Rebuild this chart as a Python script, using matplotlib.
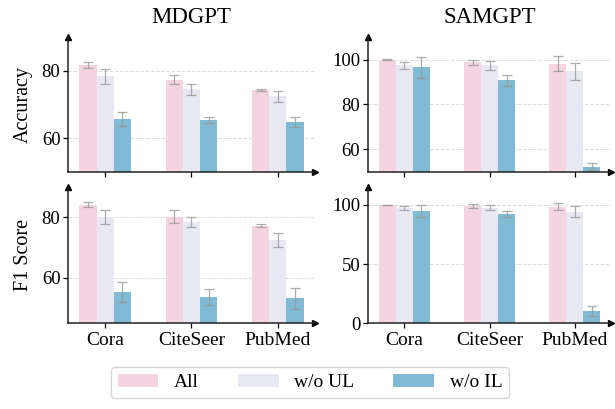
import matplotlib
matplotlib.use("Agg")
import matplotlib.pyplot as plt
import numpy as np

plt.rcParams['font.family'] = ['Liberation Serif', 'DejaVu Serif']
plt.rcParams['mathtext.fontset'] = 'stix'

datasets = ["Cora", "CiteSeer", "PubMed"]
variants = ["All", "w/o UL", "w/o IL"]
colors = ["#F4D4E1", "#E8E8F3", "#80BAD5"]

# MDGPT accuracy
mdgpt_acc = [[81.8, 77.4, 74.2], [78.3, 74.5, 72.4], [65.7, 65.4, 64.8]]
mdgpt_acc_err = [[0.9, 1.3, 0.3], [2.2, 1.7, 1.6], [2.2, 1.0, 1.6]]
# SAMGPT accuracy
samgpt_acc = [[99.9, 98.7, 98.2], [97.4, 97.4, 94.7], [96.5, 90.7, 52.4]]
samgpt_acc_err = [[0.2, 1.2, 3.2], [1.4, 2.1, 3.8], [4.6, 2.6, 1.5]]
# MDGPT F1
mdgpt_f1 = [[84.2, 80.2, 77.2], [80.2, 78.4, 72.6], [55.2, 53.8, 53.2]]
mdgpt_f1_err = [[0.9, 2.1, 0.5], [2.3, 1.6, 2.3], [3.3, 2.6, 3.4]]
# SAMGPT F1
samgpt_f1 = [[99.9, 99.1, 98.3], [97.5, 97.7, 94.1], [94.9, 92.4, 10.2]]
samgpt_f1_err = [[0.2, 1.4, 3.1], [1.8, 2.3, 4.5], [5.0, 2.3, 4.1]]

titles = ["MDGPT", "SAMGPT"]
ylabels = ["Accuracy", "F1 Score"]
ylims = [[(50, 90), (50, 110)], [(45, 90), (0, 115)]]
yticks = [[[60, 80], [60, 80, 100]], [[60, 80], [0, 50, 100]]]

panels = [[(mdgpt_acc, mdgpt_acc_err), (samgpt_acc, samgpt_acc_err)],
          [(mdgpt_f1, mdgpt_f1_err), (samgpt_f1, samgpt_f1_err)]]

fig = plt.figure(figsize=(6.15, 4.09), dpi=100)
lefts = [0.1106, 0.598]
widths = [0.512 - 0.1106, 0.994 - 0.598]
bottoms = [0.5795, 0.2095]
heights = [0.9095 - 0.5795, 0.5428 - 0.2095]

x = np.arange(len(datasets))
w = 0.2
handles = []
for r in range(2):
    for c in range(2):
        ax = fig.add_axes([lefts[c], bottoms[r], widths[c], heights[r]])
        vals, errs = panels[r][c]
        for k in range(3):
            b = ax.bar(x + (k - 1) * w, vals[k], w, color=colors[k], label=variants[k],
                       yerr=errs[k], capsize=3.5,
                       error_kw=dict(ecolor="#999999", elinewidth=0.9, capthick=0.9, alpha=0.8),
                       zorder=2)
            if r == 0 and c == 0:
                handles.append(b)
        ax.set_ylim(*ylims[r][c])
        ax.set_yticks(yticks[r][c])
        ax.set_xticks(x)
        if r == 1:
            ax.set_xticklabels(datasets, fontsize=14)
        else:
            ax.set_xticklabels([])
        ax.tick_params(axis='y', labelsize=13.5, length=3.5, width=0.9, pad=2)
        ax.tick_params(axis='x', length=3.5, width=0.9, pad=3)
        ax.grid(axis='y', linestyle='--', color='#dddddd', linewidth=0.7, zorder=0)
        ax.set_axisbelow(True)
        for s in ['top', 'right']:
            ax.spines[s].set_visible(False)
        for s in ['left', 'bottom']:
            ax.spines[s].set_linewidth(1.1)
            ax.spines[s].set_color('#222222')
        ax.plot(1, 0, ">", color='black', markersize=5, transform=ax.transAxes, clip_on=False)
        ax.plot(0, 1, "^", color='black', markersize=5, transform=ax.transAxes, clip_on=False)
        if c == 0:
            ax.set_ylabel(ylabels[r], fontsize=14.5, labelpad=6)
        if r == 0:
            ax.set_title(titles[c], fontsize=16.5, pad=10)

leg = fig.legend(handles, variants, loc='lower center', bbox_to_anchor=(0.504, 0.003),
                 ncol=3, fontsize=14, handlelength=2.1, handleheight=0.7,
                 columnspacing=2.0, handletextpad=0.8, frameon=True, fancybox=True,
                 edgecolor='#cccccc', borderpad=0.35)

fig.savefig("out.png", dpi=100)
